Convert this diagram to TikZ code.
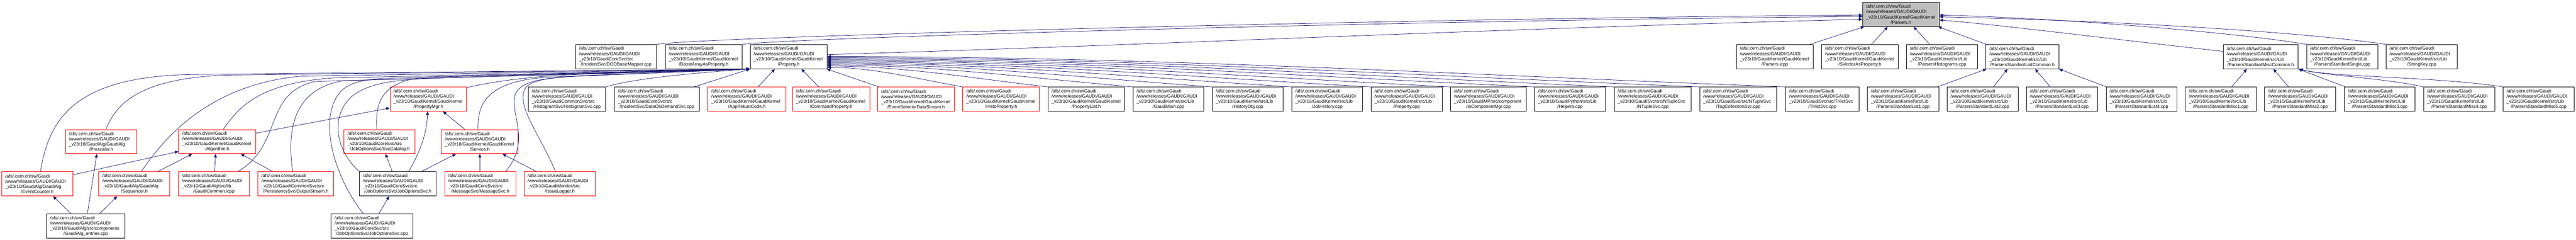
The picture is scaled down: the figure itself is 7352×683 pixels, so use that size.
\documentclass[tikz,border=0pt]{standalone}
\usepackage{fontspec}
\newfontfamily\lsans{Liberation Sans}
\usetikzlibrary{arrows.meta,calc}
\definecolor{edgecol}{HTML}{191970}
\definecolor{hubgray}{HTML}{BFBFBF}
\newcommand\gfont{\lsans\fontsize{6.45pt}{7.45pt}\selectfont}
\tikzset{
  gbox/.style={rectangle, draw=black, line width=0.65pt, fill=white, inner xsep=0pt, inner ysep=0pt, minimum height=34.5pt, font=\gfont, align=left},
  rbox/.style={gbox, draw=red},
  hbox/.style={gbox, fill=hubgray},
  edge/.style={draw=edgecol, line width=0.55pt, -{Triangle[length=5pt,width=4.4pt]}},
}
\newcommand\gn[7]{%
  \pgfmathsetmacro\gcx{(#2+#3)/2}%
  \pgfmathsetlengthmacro\gbw{(#3-#2)*0.5pt}%
  \pgfmathsetlengthmacro\gtw{(#3-#2-20)*0.5pt}%
  \node[#5, minimum width=\gbw, text width=\gtw] (#1) at (\gcx,#4)
    {/afs/.cern.ch/sw/Gaudi\\/www/releases/GAUDI/GAUDI\\\_v23r10/#6\\\makebox[\linewidth]{#7}};%
}
\begin{document}
\begin{tikzpicture}[x=0.5pt,y=-0.5pt]
\useasboundingbox (0,0) rectangle (7352,683);
% level 0
\gn{P0}{5316}{5535}{41}{hbox}{GaudiKernel/GaudiKernel}{/Parsers.h}
% level 1
\gn{DOD}{1643}{1874}{161.5}{gbox}{GaudiCoreSvc/src}{/IncidentSvc/DODBasicMapper.cpp}
\gn{BAP}{1899}{2118}{161.5}{gbox}{GaudiKernel/GaudiKernel}{/BoostArrayAsProperty.h}
\gn{PROP}{2141}{2361}{161.5}{gbox}{GaudiKernel/GaudiKernel}{/Property.h}
\gn{PIC}{4956}{5175}{161.5}{gbox}{GaudiKernel/GaudiKernel}{/Parsers.icpp}
\gn{SVP}{5199}{5417}{161.5}{gbox}{GaudiKernel/GaudiKernel}{/SVectorAsProperty.h}
\gn{PHI}{5441}{5644}{161.5}{gbox}{GaudiKernel/src/Lib}{/ParsersHistograms.cpp}
\gn{PLC}{5668}{5876}{161.5}{gbox}{GaudiKernel/src/Lib}{/ParsersStandardListCommon.h}
\gn{PMC}{6345}{6559}{161.5}{gbox}{GaudiKernel/src/Lib}{/ParsersStandardMiscCommon.h}
\gn{PSS}{6583}{6787}{161.5}{gbox}{GaudiKernel/src/Lib}{/ParsersStandardSingle.cpp}
\gn{SK}{6810}{7013}{161.5}{gbox}{GaudiKernel/src/Lib}{/StringKey.cpp}
% level 2
\gn{PMGR}{1113}{1332}{282.5}{rbox}{GaudiKernel/GaudiKernel}{/PropertyMgr.h}
\gn{HSC}{1508}{1729}{282.5}{gbox}{GaudiCommonSvc/src}{/HistogramSvc/HistogramSvc.cpp}
\gn{DODS}{1754}{1996}{282.5}{gbox}{GaudiCoreSvc/src}{/IncidentSvc/DataOnDemandSvc.cpp}
\gn{ARC}{2020}{2243}{282.5}{rbox}{GaudiKernel/GaudiKernel}{/AppReturnCode.h}
\gn{CMD}{2262}{2482}{282.5}{rbox}{GaudiKernel/GaudiKernel}{/CommandProperty.h}
\gn{ESDS}{2505}{2724}{282.5}{rbox}{GaudiKernel/GaudiKernel}{/EventSelectorDataStream.h}
\gn{HPR}{2748}{2966}{282.5}{rbox}{GaudiKernel/GaudiKernel}{/HistoProperty.h}
\gn{PLIST}{2991}{3209}{282.5}{gbox}{GaudiKernel/GaudiKernel}{/PropertyList.h}
\gn{GMAIN}{3234}{3436}{282.5}{gbox}{GaudiKernel/src/Lib}{/GaudiMain.cpp}
\gn{HOBJ}{3460}{3662}{282.5}{gbox}{GaudiKernel/src/Lib}{/HistoryObj.cpp}
\gn{JHIST}{3687}{3889}{282.5}{gbox}{GaudiKernel/src/Lib}{/JobHistory.cpp}
\gn{PCPP}{3913}{4116}{282.5}{gbox}{GaudiKernel/src/Lib}{/Property.cpp}
\gn{IOCM}{4140}{4356}{282.5}{gbox}{GaudiMP/src/component}{/IoComponentMgr.cpp}
\gn{HELP}{4380}{4582}{282.5}{gbox}{GaudiPython/src/Lib}{/Helpers.cpp}
\gn{NTS}{4607}{4827}{282.5}{gbox}{GaudiSvc/src/NTupleSvc}{/NTupleSvc.cpp}
\gn{TCS}{4851}{5071}{282.5}{gbox}{GaudiSvc/src/NTupleSvc}{/TagCollectionSvc.cpp}
\gn{THS}{5096}{5306}{282.5}{gbox}{GaudiSvc/src/THistSvc}{/THistSvc.cpp}
\gn{PSL1}{5330}{5533}{282.5}{gbox}{GaudiKernel/src/Lib}{/ParsersStandardList1.cpp}
\gn{PSL2}{5557}{5760}{282.5}{gbox}{GaudiKernel/src/Lib}{/ParsersStandardList2.cpp}
\gn{PSL3}{5784}{5986}{282.5}{gbox}{GaudiKernel/src/Lib}{/ParsersStandardList3.cpp}
\gn{PSL4}{6011}{6213}{282.5}{gbox}{GaudiKernel/src/Lib}{/ParsersStandardList4.cpp}
\gn{PSM1}{6237}{6439}{282.5}{gbox}{GaudiKernel/src/Lib}{/ParsersStandardMisc1.cpp}
\gn{PSM2}{6463}{6666}{282.5}{gbox}{GaudiKernel/src/Lib}{/ParsersStandardMisc2.cpp}
\gn{PSM3}{6691}{6893}{282.5}{gbox}{GaudiKernel/src/Lib}{/ParsersStandardMisc3.cpp}
\gn{PSM4}{6917}{7120}{282.5}{gbox}{GaudiKernel/src/Lib}{/ParsersStandardMisc4.cpp}
\gn{PSM5}{7144}{7347}{282.5}{gbox}{GaudiKernel/src/Lib}{/ParsersStandardMisc5.cpp}
% level 3
\gn{PRESC}{187}{391}{403.5}{rbox}{GaudiAlg/GaudiAlg}{/Prescaler.h}
\gn{ALG}{510}{730}{403.5}{rbox}{GaudiKernel/GaudiKernel}{/Algorithm.h}
\gn{SCAT}{982}{1185}{403.5}{rbox}{GaudiCoreSvc/src}{/JobOptionsSvc/SvcCatalog.h}
\gn{SERV}{1260}{1478}{403.5}{rbox}{GaudiKernel/GaudiKernel}{/Service.h}
% level 4
\gn{EVC}{5}{208}{524}{rbox}{GaudiAlg/GaudiAlg}{/EventCounter.h}
\gn{SEQ}{282}{485}{524}{rbox}{GaudiAlg/GaudiAlg}{/Sequencer.h}
\gn{GCI}{509}{712}{524}{rbox}{GaudiAlg/src/lib}{/GaudiCommon.icpp}
\gn{OUTS}{736}{952}{524}{rbox}{GaudiCommonSvc/src}{/PersistencySvc/OutputStream.h}
\gn{JOSH}{1026}{1245}{524}{gbox}{GaudiCoreSvc/src}{/JobOptionsSvc/JobOptionsSvc.h}
\gn{MSGS}{1269}{1472}{524}{rbox}{GaudiCoreSvc/src}{/MessageSvc/MessageSvc.h}
\gn{ISSL}{1496}{1699}{524}{rbox}{GaudiMonitor/src}{/IssueLogger.h}
% level 5
\gn{GAE}{133}{357}{644}{gbox}{GaudiAlg/src/components}{/GaudiAlg\_entries.cpp}
\gn{JOSC}{945}{1179}{644}{gbox}{GaudiCoreSvc/src}{/JobOptionsSvc/JobOptionsSvc.cpp}

% ---- edges to Parsers.h
\draw[edge] (DOD.north east) .. controls (2000,105) and (4000,52) .. ($(P0.west)+(0,2)$);
\draw[edge] (BAP.north east) .. controls (2250,108) and (4000,58) .. ($(P0.west)+(0,6)$);
\draw[edge] ($(PROP.east)+(0,-6)$) .. controls (3300,128) and (4300,80) .. ($(P0.west)+(0,14)$);
\draw[edge] ($(PIC.north east)+(-10,0)$) -- ($(P0.south west)+(5,0)$);
\draw[edge] ($(SVP.north west)+(143,0)$) -- ($(P0.south west)+(72,0)$);
\draw[edge] ($(PHI.north west)+(67,0)$) -- ($(P0.south west)+(146,0)$);
\draw[edge] ($(PLC.north west)+(2,0)$) -- ($(P0.south east)+(-4,0)$);
\draw[edge] ($(PMC.north west)+(0,20)$) .. controls (6000,108) and (5700,70) .. ($(P0.east)+(0,16)$);
\draw[edge] (PSS.north west) .. controls (6400,95) and (5900,52) .. ($(P0.east)+(0,2)$);
\draw[edge] (SK.north west) .. controls (6550,88) and (6000,58) .. ($(P0.east)+(0,7)$);

% ---- edges to ListCommon / MiscCommon
\draw[edge] ($(PSL1.north east)+(-4,0)$) -- ($(PLC.south west)+(2,0)$);
\draw[edge] ($(PSL2.north west)+(133,0)$) -- ($(PLC.south west)+(62,0)$);
\draw[edge] ($(PSL3.north west)+(68,0)$) -- ($(PLC.south west)+(141,0)$);
\draw[edge] ($(PSL4.north west)+(1,0)$) -- (PLC.south east);
\draw[edge] ($(PSM1.north west)+(133,0)$) -- ($(PMC.south west)+(68,0)$);
\draw[edge] ($(PSM2.north west)+(69,0)$) -- ($(PMC.south west)+(144,0)$);
\draw[edge] ($(PSM3.north west)+(3,0)$) -- (PMC.south east);
\draw[edge] (PSM4.north west) .. controls (6800,222) and (6640,216) .. ($(PMC.south east)+(2,0)$);
\draw[edge] (PSM5.north west) .. controls (6950,218) and (6650,220) .. ($(PMC.south east)+(3,0)$);

% ---- right-hand includers of Property.h
\draw[edge] ($(ESDS.north west)+(4,0)$) -- ($(PROP.south east)+(-2,0)$);
\draw[edge] (HPR.north west) .. controls (2632,228) and (2496,192) .. ($(PROP.east)+(0,30.5)$);
\draw[edge] (PLIST.north west) .. controls (2802,227) and (2581,188) .. ($(PROP.east)+(0,26.5)$);
\draw[edge] (GMAIN.north west) .. controls (2972,226) and (2667,185) .. ($(PROP.east)+(0,23.5)$);
\draw[edge] (HOBJ.north west) .. controls (3130,225) and (2746,182) .. ($(PROP.east)+(0,20.5)$);
\draw[edge] (JHIST.north west) .. controls (3289,224) and (2825,179) .. ($(PROP.east)+(0,17.5)$);
\draw[edge] (PCPP.north west) .. controls (3447,223) and (2904,176) .. ($(PROP.east)+(0,14.5)$);
\draw[edge] (IOCM.north west) .. controls (3606,222) and (2984,173) .. ($(PROP.east)+(0,11.5)$);
\draw[edge] (HELP.north west) .. controls (3774,221) and (3068,170) .. ($(PROP.east)+(0,8.5)$);
\draw[edge] (NTS.north west) .. controls (3933,220) and (3147,167) .. ($(PROP.east)+(0,5.5)$);
\draw[edge] (TCS.north west) .. controls (4104,219) and (3233,164) .. ($(PROP.east)+(0,2.5)$);
\draw[edge] (THS.north west) .. controls (4275,218) and (3318,161) .. ($(PROP.east)+(0,-0.5)$);

% ---- left-hand includers of Property.h
\draw[edge] ($(EVC.north west)+(111,0)$) .. controls (140,340) and (210,215) .. (560,212) -- (PROP.south west);
\draw[edge] ($(PRESC.north west)+(116,0)$) .. controls (330,300) and (390,225) .. (640,214) -- (PROP.south west);
\draw[edge] ($(SEQ.north west)+(122,0)$) .. controls (470,390) and (600,240) .. (860,217) -- (PROP.south west);
\draw[edge] ($(ALG.north west)+(128,0)$) .. controls (690,290) and (760,236) .. (950,222) -- (PROP.south west);
\draw[edge] ($(GCI.north west)+(171,0)$) .. controls (810,410) and (750,265) .. (900,232) -- (PROP.south west);
\draw[edge] ($(OUTS.north west)+(100,0)$) .. controls (820,380) and (830,255) .. (980,230) -- (PROP.south west);
\draw[edge] ($(JOSC.north west)+(93,0)$) .. controls (950,500) and (905,330) .. (975,258) .. controls (1015,222) and (1080,224) .. (1180,221) -- (PROP.south west);
\draw[edge] (JOSH.north west) .. controls (950,420) and (945,320) .. (1010,270) .. controls (1060,235) and (1130,228) .. (1230,223) -- (PROP.south west);
\draw[edge] ($(SCAT.north west)+(94,0)$) .. controls (1070,290) and (1090,230) .. (1220,219) -- (PROP.south west);
\draw[edge] ($(PMGR.north east)+(0,2)$) .. controls (1400,234) and (1500,218) .. (1650,212) -- (PROP.south west);
\draw[edge] ($(SERV.north west)+(105,0)$) .. controls (1362,290) and (1395,232) .. (1560,220) -- (PROP.south west);
\draw[edge] ($(MSGS.north west)+(174,0)$) .. controls (1520,400) and (1450,320) .. (1472,265) .. controls (1492,230) and (1545,223) .. (1650,217) -- (PROP.south west);
\draw[edge] ($(ISSL.north west)+(90,0)$) .. controls (1540,380) and (1470,300) .. (1500,250) .. controls (1520,224) and (1590,219) .. (1700,214) -- (PROP.south west);
\draw[edge] (HSC.north east) .. controls (1800,226) and (1950,210) .. (PROP.south west);
\draw[edge] ($(DODS.north west)+(228,0)$) -- (PROP.south west);
\draw[edge] ($(ARC.north west)+(144,0)$) -- ($(PROP.south west)+(71,0)$);
\draw[edge] ($(CMD.north west)+(75,0)$) -- ($(PROP.south west)+(147,0)$);

% ---- lower-level edges on the left
\draw[edge] ($(ALG.north east)+(0,11)$) -- ($(PMGR.south west)+(0,-10)$);
\draw[edge] ($(EVC.north east)+(0,9)$) -- ($(ALG.south west)+(0,-7)$);
\draw[edge] ($(SEQ.north west)+(169,0)$) -- ($(ALG.south west)+(39,0)$);
\draw[edge] ($(GCI.north west)+(104,0)$) -- ($(ALG.south west)+(106,0)$);
\draw[edge] ($(OUTS.north west)+(43,0)$) -- ($(ALG.south west)+(178,0)$);
\draw[edge] ($(GAE.north west)+(71,0)$) -- ($(EVC.south west)+(147,0)$);
\draw[edge] ($(GAE.north west)+(117,0)$) -- ($(PRESC.south west)+(90,0)$);
\draw[edge] ($(GAE.north west)+(152,0)$) -- ($(SEQ.south west)+(53,0)$);
\draw[edge] ($(JOSC.north west)+(137,0)$) -- ($(JOSH.south west)+(85,0)$);
\draw[edge] ($(JOSH.north west)+(94,0)$) -- ($(SCAT.south west)+(119,0)$);
\draw[edge] ($(JOSH.north west)+(141,0)$) .. controls (1200,430) and (1218,380) .. ($(PMGR.south west)+(108,0)$);
\draw[edge] ($(JOSH.north west)+(177,0)$) -- ($(SERV.south west)+(42,0)$);
\draw[edge] ($(SERV.north west)+(67,0)$) -- ($(PMGR.south west)+(152,0)$);
\draw[edge] ($(MSGS.north west)+(101,0)$) -- ($(SERV.south west)+(110,0)$);
\draw[edge] ($(ISSL.north west)+(36,0)$) -- ($(SERV.south west)+(175,0)$);
\end{tikzpicture}
\end{document}
